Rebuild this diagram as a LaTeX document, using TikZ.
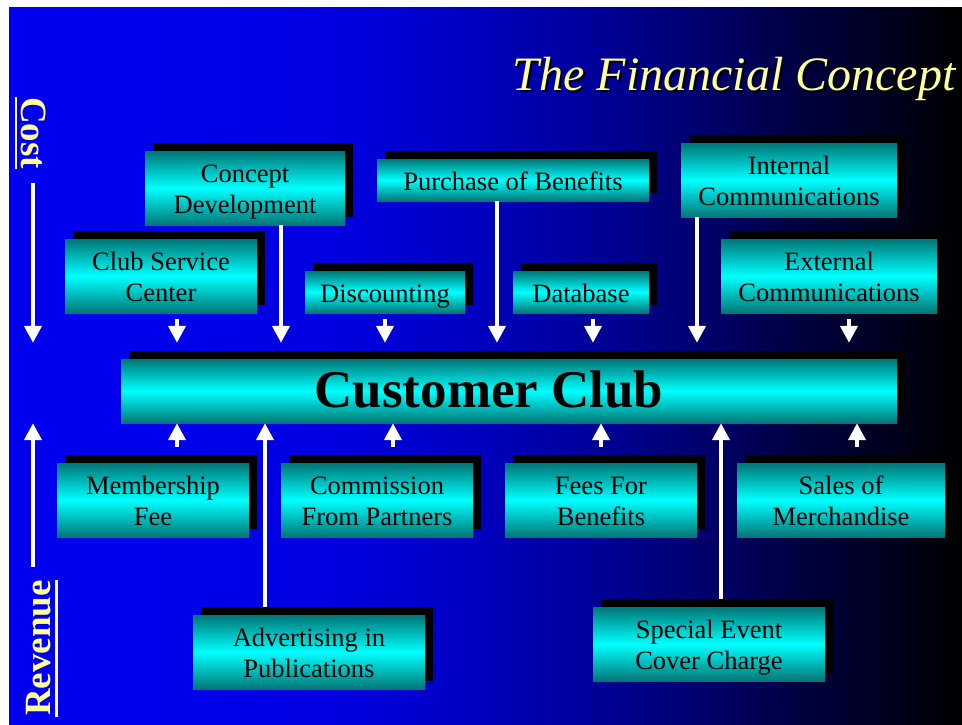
\documentclass[tikz,border=0pt]{standalone}
\usepackage{fontspec}
\setmainfont{Liberation Serif}
\usetikzlibrary{arrows.meta,shadows}

\definecolor{titleyellow}{RGB}{255,255,153}
\definecolor{boxteal}{RGB}{0,118,118}
\pgfdeclarehorizontalshading{slidebg}{100bp}{rgb(0bp)=(0,0,0.94); rgb(25bp)=(0,0,0.94);
  rgb(35bp)=(0,0,0.92); rgb(43bp)=(0,0,0.87); rgb(49.5bp)=(0,0,0.75); rgb(56bp)=(0,0,0.59);
  rgb(61.25bp)=(0,0,0.43); rgb(66.5bp)=(0,0,0.25); rgb(71.75bp)=(0,0,0.1); rgb(75bp)=(0,0,0);
  rgb(100bp)=(0,0,0)}

\begin{document}
\begin{tikzpicture}
    [x=1pt, y=-1pt,
     struts/.style n args={2}{execute at begin node={\rule{0pt}{#1}},
       execute at end node={\rule[-#2]{0pt}{#2}}},
     item/.style={rectangle, inner sep=0pt, align=center,
       top color=boxteal, bottom color=boxteal, middle color=cyan,
       drop shadow={shadow xshift=8pt, shadow yshift=8pt, fill=black, opacity=1},
       font=\fontsize{26.5}{31.5}\selectfont, struts={27pt}{7pt}},
     pair/.style={struts={58.5pt}{7pt}},
     side/.style={titleyellow, inner sep=0pt, font=\fontsize{37}{40}\selectfont\bfseries},
     arr/.style={white, line width=4pt, -{Triangle[length=17pt,width=17pt]}}]
    \useasboundingbox (0,0) rectangle (962,724);
    \fill[white] (0,0) rectangle (962,724);
    \shade[shading=slidebg] (9,7) rectangle (962,724);

    % title with its shadow
    \node[font=\fontsize{48}{50}\selectfont\itshape, anchor=base east, black] (titleshade) at (961,92) {The Financial Concept};
    \node[font=\fontsize{48}{50}\selectfont\itshape, anchor=base east, titleyellow] (title) at (959,90) {The Financial Concept};

    % cost side
    \node[item, pair, minimum width=200pt, minimum height=74pt] (concept) at (245,188) {Concept\\Development};
    \node[item, minimum width=272pt, minimum height=42pt] (purchase) at (513,180) {Purchase of Benefits};
    \node[item, pair, minimum width=216pt, minimum height=74pt] (internal) at (789,180) {Internal\\Communications};
    \node[item, pair, minimum width=192pt, minimum height=74pt] (service) at (161,276) {Club Service\\Center};
    \node[item, minimum width=160pt, minimum height=42pt] (discount) at (385,292) {Discounting};
    \node[item, minimum width=136pt, minimum height=42pt] (database) at (581,292) {Database};
    \node[item, pair, minimum width=216pt, minimum height=74pt] (external) at (829,276) {External\\Communications};

    \node[item, minimum width=776pt, minimum height=64pt, struts={40pt}{8pt},
      font=\fontsize{53}{60}\selectfont\bfseries] (club) at (509,391) {Customer Club\hspace*{40pt}};

    % revenue side
    \node[item, pair, minimum width=192pt, minimum height=74pt] (member) at (153,500) {Membership\\Fee};
    \node[item, pair, minimum width=192pt, minimum height=74pt] (commission) at (377,500) {Commission\\From Partners};
    \node[item, pair, minimum width=192pt, minimum height=74pt] (fees) at (601,500) {Fees For\\Benefits};
    \node[item, pair, minimum width=208pt, minimum height=74pt] (sales) at (841,500) {Sales of\\Merchandise};
    \node[item, pair, minimum width=232pt, minimum height=74pt] (advert) at (309,652) {Advertising in\\Publications};
    \node[item, pair, minimum width=232pt, minimum height=74pt] (special) at (709,644) {Special Event\\Cover Charge};

    \node[side, rotate=-90] (cost) at (34,133) {Cost};
    \node[side, rotate=90] (revenue) at (39,648) {Revenue};
    \draw[titleyellow, line width=2pt] (16,97) -- (16,169);
    \draw[titleyellow, line width=3pt] (56,580) -- (56,717);

    \coordinate (costfoot) at (33,183);
    \coordinate (revhead) at (33,567);
    \draw[arr, shorten >=16pt] (costfoot) -- (costfoot |- club.north);
    \draw[arr] (revhead) -- (revhead |- club.south);

    % costs into the club
    \draw[arr, shorten >=16pt] ([xshift=36pt]concept.south) -- ([xshift=36pt]concept.south |- club.north);
    \draw[arr, shorten >=16pt] ([xshift=-16pt]purchase.south) -- ([xshift=-16pt]purchase.south |- club.north);
    \draw[arr, shorten >=16pt] ([xshift=-92pt]internal.south) -- ([xshift=-92pt]internal.south |- club.north);
    \draw[arr, shorten <=6pt, shorten >=16pt] ([xshift=16pt]service.south) -- ([xshift=16pt]service.south |- club.north);
    \draw[arr, shorten <=6pt, shorten >=16pt] (discount.south) -- (discount.south |- club.north);
    \draw[arr, shorten <=6pt, shorten >=16pt] ([xshift=12pt]database.south) -- ([xshift=12pt]database.south |- club.north);
    \draw[arr, shorten <=6pt, shorten >=16pt] ([xshift=20pt]external.south) -- ([xshift=20pt]external.south |- club.north);

    % revenues into the club
    \draw[arr, shorten <=16pt] ([xshift=24pt]member.north) -- ([xshift=24pt]member.north |- club.south);
    \draw[arr, shorten <=16pt] ([xshift=16pt]commission.north) -- ([xshift=16pt]commission.north |- club.south);
    \draw[arr, shorten <=16pt] (fees.north) -- (fees.north |- club.south);
    \draw[arr, shorten <=16pt] ([xshift=16pt]sales.north) -- ([xshift=16pt]sales.north |- club.south);
    \draw[arr, shorten <=8pt] ([xshift=-44pt]advert.north) -- ([xshift=-44pt]advert.north |- club.south);
    \draw[arr, shorten <=8pt] ([xshift=12pt]special.north) -- ([xshift=12pt]special.north |- club.south);
  \end{tikzpicture}
\end{document}
